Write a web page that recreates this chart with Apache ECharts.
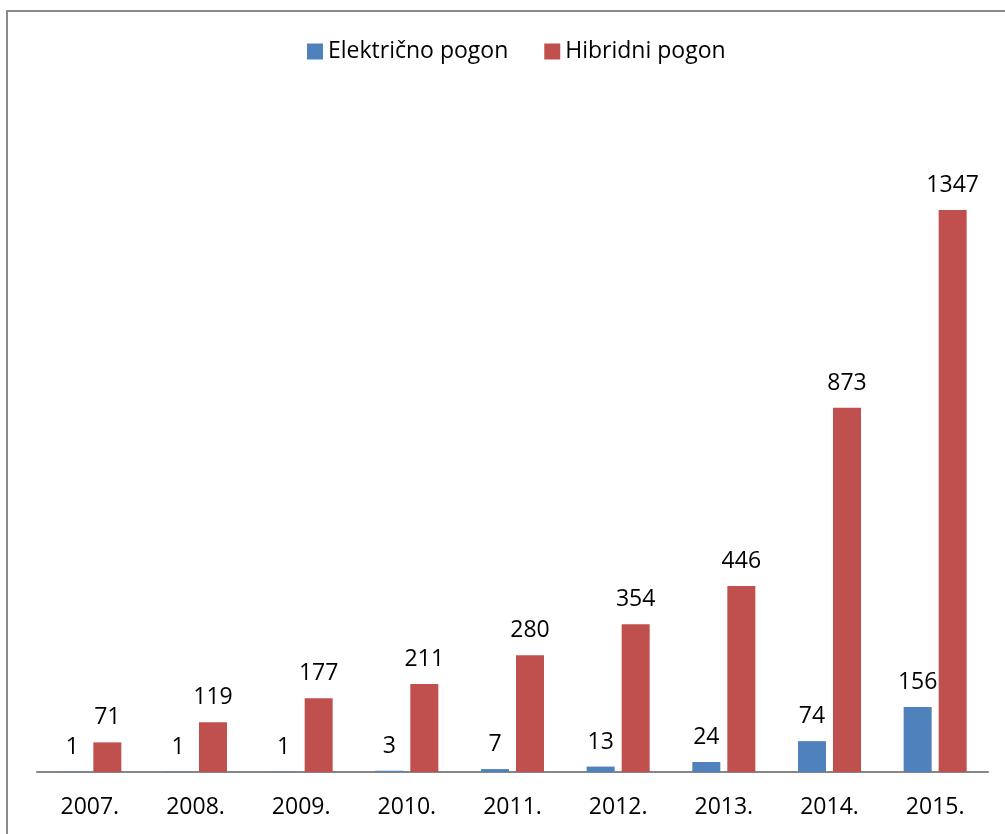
<!DOCTYPE html>
<html>
<head>
<meta charset="utf-8">
<script src="https://cdn.jsdelivr.net/npm/echarts@6/dist/echarts.min.js"></script>
<style>
  html, body { margin: 0; padding: 0; background: #fff; }
  #chart { width: 1005px; height: 834px; }
</style>
</head>
<body>
<div id="chart"></div>
<script>
// data
const years = ['2007.', '2008.', '2009.', '2010.', '2011.', '2012.', '2013.', '2014.', '2015.'];
const electricValues = [1, 1, 1, 3, 7, 13, 24, 74, 156];
const hybridValues = [71, 119, 177, 211, 280, 354, 446, 873, 1347];
const seriesNames = ['Električno pogon', 'Hibridni pogon'];

const fontFamily = '"Open Sans", sans-serif';

const chart = echarts.init(document.getElementById('chart'));

const labelStyle = {
  show: true,
  position: 'top',
  distance: 13,
  color: '#000',
  fontSize: 23,
  fontFamily: fontFamily
};

const option = {
  animation: false,
  backgroundColor: '#fff',
  // outer frame of the chart area
  graphic: [
    {
      type: 'rect',
      shape: { x: 7, y: 11, width: 1010, height: 840 },
      style: { fill: 'none', stroke: '#898989', lineWidth: 2 },
      silent: true
    }
  ],
  legend: {
    left: 307,
    top: 40,
    padding: 0,
    itemWidth: 16,
    itemHeight: 16,
    itemGap: 36,
    icon: 'rect',
    textStyle: { color: '#000', fontSize: 23, fontFamily: fontFamily },
    data: seriesNames
  },
  grid: {
    left: 37,
    right: 17,
    top: 104.5,
    bottom: 62,
    containLabel: false
  },
  xAxis: {
    type: 'category',
    data: years,
    axisLine: { show: true, lineStyle: { color: '#868686', width: 2 } },
    axisTick: { show: false },
    axisLabel: {
      color: '#000',
      fontSize: 23,
      fontFamily: fontFamily,
      margin: 24
    }
  },
  yAxis: {
    type: 'value',
    min: 0,
    max: 1600,
    show: false,
    splitLine: { show: false }
  },
  series: [
    {
      name: seriesNames[0],
      type: 'bar',
      data: electricValues,
      barWidth: 28,
      barGap: '25%',
      itemStyle: { color: '#4F81BD' },
      label: labelStyle
    },
    {
      name: seriesNames[1],
      type: 'bar',
      data: hybridValues,
      barWidth: 28,
      itemStyle: { color: '#C0504D' },
      label: labelStyle
    }
  ]
};

chart.setOption(option);
</script>
</body>
</html>
